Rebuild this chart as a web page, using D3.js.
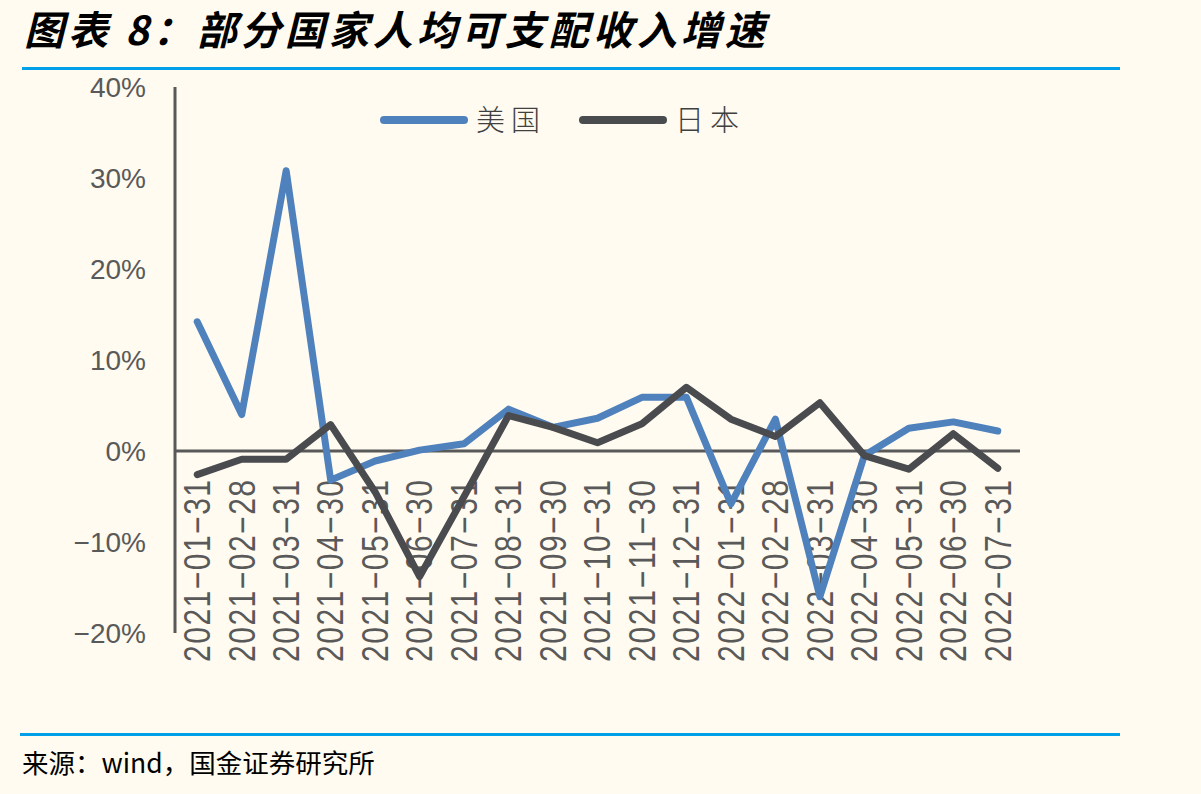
<!DOCTYPE html>
<html><head><meta charset="utf-8">
<script src="https://cdn.jsdelivr.net/npm/d3@7"></script>
<style>
html,body{margin:0;padding:0;background:#fffbf0;}
svg{display:block;}
</style></head>
<body>
<svg id="chart" width="1201" height="794"></svg>
<script>
const categories = ["2021-01-31","2021-02-28","2021-03-31","2021-04-30","2021-05-31","2021-06-30","2021-07-31","2021-08-31","2021-09-30","2021-10-31","2021-11-30","2021-12-31","2022-01-31","2022-02-28","2022-03-31","2022-04-30","2022-05-31","2022-06-30","2022-07-31"];
const usValues = [14.2, 4.0, 30.8, -3.2, -1.1, 0.1, 0.8, 4.6, 2.6, 3.6, 5.9, 5.9, -5.8, 3.5, -16.0, -0.5, 2.5, 3.2, 2.2];
const jpValues = [-2.6, -0.9, -0.9, 2.9, -4.5, -13.8, -5.0, 3.9, 2.6, 0.9, 3.0, 7.0, 3.5, 1.6, 5.3, -0.5, -2.0, 1.9, -1.9];
const yTicks = [40, 30, 20, 10, 0, -10, -20];
const seriesNames = ["美国", "日本"];
const seriesColors = ["#4f81bd", "#4a4b4e"];

const svg = d3.select("#chart");
svg.append("rect").attr("width",1201).attr("height",794).attr("fill","#fffbf0");

// title
svg.append("text").attr("x",24).attr("y",45)
  .attr("font-family","'Noto Sans CJK SC'").attr("font-weight","bold").attr("font-style","italic")
  .attr("font-size",40).attr("letter-spacing",4).attr("fill","#000")
  .text("图表 8：部分国家人均可支配收入增速");
svg.append("line").attr("x1",22).attr("x2",1120).attr("y1",68.5).attr("y2",68.5)
  .attr("stroke","#00a0e9").attr("stroke-width",3);
svg.append("line").attr("x1",20).attr("x2",1120).attr("y1",734.5).attr("y2",734.5)
  .attr("stroke","#00a0e9").attr("stroke-width",3);
svg.append("text").attr("x",22).attr("y",773)
  .attr("font-family","'Noto Sans CJK SC'").attr("font-size",26.5).attr("fill","#000")
  .text("来源：wind，国金证券研究所");

const x = d3.scaleBand().domain(categories).range([175,1020]);
const y = d3.scaleLinear().domain([-20,40]).range([633,87]);

// y axis labels
const yAxis = d3.axisLeft(y).tickValues(yTicks).tickSize(0).tickPadding(0)
  .tickFormat(d => (d<0?"−":"") + Math.abs(d) + "%");
const gy = svg.append("g").attr("transform","translate(146,0)").call(yAxis);
gy.select(".domain").remove();
gy.selectAll("text").attr("font-family","'Liberation Sans', Arial, sans-serif")
  .attr("font-size",28).attr("fill","#595959").attr("dy","0.35em");

// y axis line
svg.append("line").attr("x1",175).attr("x2",175).attr("y1",y(40)).attr("y2",y(-20))
  .attr("stroke","#595959").attr("stroke-width",3);
// zero line
svg.append("line").attr("x1",175).attr("x2",1020).attr("y1",y(0)).attr("y2",y(0))
  .attr("stroke","#595959").attr("stroke-width",3);

// x labels
const xAxis = d3.axisBottom(x).tickSize(0).tickPadding(0)
  .tickFormat(d => d.replace(/-/g,"−"));
const gx = svg.append("g").attr("transform",`translate(0,${y(0)})`).call(xAxis);
gx.select(".domain").remove();
gx.selectAll("text")
  .attr("font-family","'Liberation Sans', Arial, sans-serif").attr("font-size",30).attr("fill","#595959")
  .attr("text-anchor","end").attr("transform","rotate(-90) scale(1,1.22)")
  .attr("x",-29).attr("y",0).attr("dy","0.35em")
  .attr("textLength",182).attr("lengthAdjust","spacing");

// lines
const line = d3.line().x((d,i)=>x(categories[i])+x.bandwidth()/2).y(d=>y(d));
[usValues, jpValues].forEach((vals,k)=>{
  svg.append("path").datum(vals).attr("d",line).attr("fill","none")
    .attr("stroke",seriesColors[k]).attr("stroke-width",7)
    .attr("stroke-linejoin","round").attr("stroke-linecap","round");
});

// legend
const legX = [384, 583];
seriesNames.forEach((n,k)=>{
  svg.append("line").attr("x1",legX[k]).attr("x2",legX[k]+80).attr("y1",120).attr("y2",120)
    .attr("stroke",seriesColors[k]).attr("stroke-width",8).attr("stroke-linecap","round");
  svg.append("text").attr("x",legX[k]+92).attr("y",131)
    .attr("font-family","'Noto Sans CJK SC'").attr("font-weight",300).attr("font-size",29)
    .attr("letter-spacing",6).attr("fill","#404040").text(n);
});
</script>
</body></html>
